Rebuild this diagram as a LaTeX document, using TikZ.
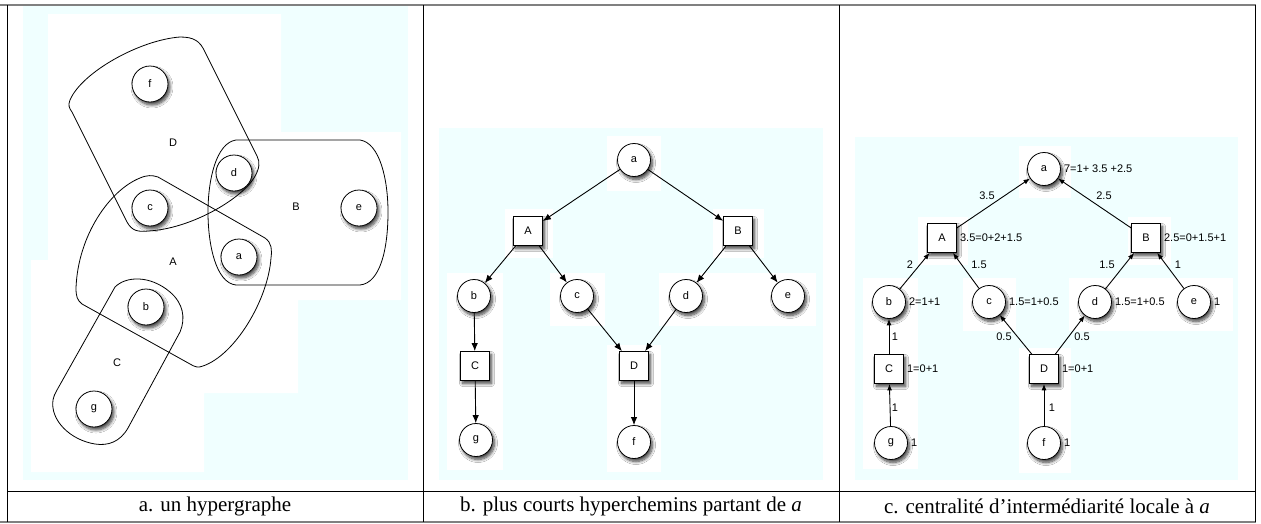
\documentclass[tikz,border=0pt]{standalone}
\usepackage{fontspec}
\setmainfont{Liberation Serif}
\newfontfamily\lsans{Liberation Sans}
\usetikzlibrary{arrows.meta,shadows.blur}
\definecolor{pale}{RGB}{240,255,255}
\definecolor{rulegrey}{RGB}{128,128,128}
\begin{document}
\begin{tikzpicture}[x=1pt,y=-1pt,
  shad/.style={blur shadow={shadow xshift=2pt,shadow yshift=-3pt,shadow blur radius=3pt,shadow blur steps=8,shadow opacity=75}},
  vtx/.style={circle,draw,fill=white,line width=0.8pt,minimum size=33pt,inner sep=0pt,font=\lsans\fontsize{11}{13}\selectfont,shad},
  bigvtx/.style={vtx,minimum size=36pt},
  hedge/.style={rectangle,draw,fill=white,line width=0.8pt,minimum size=29pt,inner sep=0pt,font=\lsans\fontsize{11}{13}\selectfont,shad},
  hlab/.style={font=\lsans\fontsize{11}{13}\selectfont,inner sep=0pt},
  outline/.style={draw,line width=0.8pt},
  num/.style={font=\lsans\fontsize{11}{13}\selectfont,inner sep=0pt},
  ann/.style={font=\lsans\fontsize{11}{13}\selectfont,anchor=west,inner sep=3pt},
  arrb/.style={line width=0.9pt,-{Latex[length=8pt,width=6.5pt]}},
  arrc/.style={line width=0.9pt,-{Latex[length=6.5pt,width=5pt]}},
  capt/.style={font=\fontsize{21}{25}\selectfont,inner sep=0pt},
  tabline/.style={line width=1pt,black},
  greyline/.style={line width=1.6pt,rulegrey}
]
\useasboundingbox (0,0) rectangle (1261,523);
% ---------- panel a background ----------
\fill[pale] (23,6) rectangle (408,480);
\fill[white] (48,14) -- (281,14) -- (281,132) -- (401,132) -- (401,300) -- (298,300) -- (298,393) -- (204,393) -- (204,472) -- (31,472) -- (31,260) -- (48,260) -- cycle;
% ---------- panel b background ----------
\fill[pale] (439,128) rectangle (823,480);
\fill[white] (607,136) rectangle (661,191);
\fill[white] (505,209) rectangle (553,258);
\fill[white] (713,209) rectangle (764,258);
\fill[white] (447,273) rectangle (503,470);
\fill[white] (550,273) rectangle (605,326);
\fill[white] (659,273) rectangle (816,326);
\fill[white] (607,345) rectangle (661,472);
% ---------- panel c background ----------
\fill[pale] (855,137) rectangle (1238,480);
\fill[white] (1019,146) rectangle (1071,198);
\fill[white] (918,217) rectangle (968,265);
\fill[white] (1128,217) rectangle (1171,265);
\fill[white] (863,278) rectangle (918,469);
\fill[white] (963,278) rectangle (1016,331);
\fill[white] (1069,278) rectangle (1233,331);
\fill[white] (1019,348) rectangle (1071,473);
% ---------- panel a hyperedges ----------
% D
\path[outline] (205,52) .. controls (200,41) and (194,37) .. (180,37)
  .. controls (140,40) and (82,72) .. (70,100)
  .. controls (68,105) and (69,108) .. (72,112) -- (127,222)
  .. controls (132,231) and (138,232) .. (148,231)
  .. controls (190,229) and (240,200) .. (254,178)
  .. controls (260,168) and (260,162) .. (257,156) -- cycle;
% A
\path[outline] (158,177) -- (265,238)
  .. controls (272,243) and (272,250) .. (271,258)
  .. controls (268,300) and (235,355) .. (203,366)
  .. controls (198,368) and (195,367) .. (190,364) -- (82,304)
  .. controls (77,300) and (76,296) .. (76,288)
  .. controls (78,235) and (110,190) .. (140,178)
  .. controls (147,175) and (152,175) .. (158,177) -- cycle;
% B
\path[outline] (236,140) -- (360,140)
  .. controls (380,143) and (388,180) .. (388,212)
  .. controls (388,250) and (380,283) .. (360,285) -- (236,285)
  .. controls (216,283) and (208,245) .. (208,212)
  .. controls (208,180) and (216,143) .. (236,140) -- cycle;
% C
\path[outline] (115,287) .. controls (126,276) and (150,275) .. (170,292)
  .. controls (183,303) and (186,318) .. (180,332) -- (128,428)
  .. controls (120,442) and (108,446) .. (95,444)
  .. controls (70,440) and (50,420) .. (53,400)
  .. controls (54,396) and (55,393) .. (57,390) -- cycle;
% labels of hyperedges
\node[hlab] (lD) at (173,143) {D};
\node[hlab] (lB) at (296,207) {B};
\node[hlab] (lA) at (173,262) {A};
\node[hlab] (lC) at (117,363) {C};
% vertices
\node[bigvtx] (hf) at (150,84) {f};
\node[bigvtx] (hd) at (234,173) {d};
\node[bigvtx] (hc) at (150,208) {c};
\node[bigvtx] (he) at (359,208) {e};
\node[bigvtx] (ha) at (239,257) {a};
\node[bigvtx] (hb) at (146,307) {b};
\node[bigvtx] (hg) at (94,409) {g};
% ---------- panel b ----------
\node[vtx] (ba) at (634,160) {a};
\node[hedge] (bA) at (528,231) {A};
\node[hedge] (bB) at (738,231) {B};
\node[vtx] (bb) at (474,296) {b};
\node[vtx] (bc) at (577,296) {c};
\node[vtx] (bd) at (686,296) {d};
\node[vtx] (be) at (788,296) {e};
\node[hedge] (bC) at (475,366) {C};
\node[hedge] (bD) at (634,366) {D};
\node[vtx] (bg) at (476,440) {g};
\node[vtx] (bf) at (634,442) {f};
\draw[arrb] (ba) -- (bA);
\draw[arrb] (ba) -- (bB);
\draw[arrb] (bA) -- (bb);
\draw[arrb] (bA) -- (bc);
\draw[arrb] (bB) -- (bd);
\draw[arrb] (bB) -- (be);
\draw[arrb] (bb) -- (bC);
\draw[arrb] (bc) -- (bD);
\draw[arrb] (bd) -- (bD);
\draw[arrb] (bC) -- (bg);
\draw[arrb] (bD) -- (bf);
% ---------- panel c ----------
\node[vtx] (ca) at (1044,169) {a};
\node[hedge] (cA) at (942,238) {A};
\node[hedge] (cB) at (1146,238) {B};
\node[vtx] (cb) at (889,302) {b};
\node[vtx] (cc) at (989,302) {c};
\node[vtx] (cd) at (1095,302) {d};
\node[vtx] (ce) at (1194,302) {e};
\node[hedge] (cC) at (889,369) {C};
\node[hedge] (cD) at (1044,369) {D};
\node[vtx] (cg) at (891,443) {g};
\node[vtx] (cf) at (1044,443) {f};
\draw[arrc] (cA) -- (ca);
\draw[arrc] (cB) -- (ca);
\draw[arrc] (cb) -- (cA);
\draw[arrc] (cc) -- (cA);
\draw[arrc] (cd) -- (cB);
\draw[arrc] (ce) -- (cB);
\draw[arrc] (cC) -- (cb);
\draw[arrc] (cD) -- (cc);
\draw[arrc] (cD) -- (cd);
\draw[arrc] (cg) -- (cC);
\draw[arrc] (cf) -- (cD);
% edge values
\node[num] (n1) at (987,196) {3.5};
\node[num] (n2) at (1104,196) {2.5};
\node[num] (n3) at (910,265) {2};
\node[num] (n4) at (979,265) {1.5};
\node[num] (n5) at (1107,265) {1.5};
\node[num] (n6) at (1178,265) {1};
\node[num] (n7) at (895,337) {1};
\node[num] (n8) at (1004,337) {0.5};
\node[num] (n9) at (1082,337) {0.5};
\node[num] (n10) at (895,408) {1};
\node[num] (n11) at (1052,408) {1};
% vertex annotations
\node[ann] (va) at (ca.east) {7=1+ 3.5 +2.5};
\node[ann] (vA) at (cA.east) {3.5=0+2+1.5};
\node[ann] (vB) at (cB.east) {2.5=0+1.5+1};
\node[ann] (vb) at (cb.east) {2=1+1};
\node[ann] (vc) at (cc.east) {1.5=1+0.5};
\node[ann] (vd) at (cd.east) {1.5=1+0.5};
\node[ann] (ve) at (ce.east) {1};
\node[ann] (vC) at (cC.east) {1=0+1};
\node[ann] (vD) at (cD.east) {1=0+1};
\node[ann] (vg) at (cg.east) {1};
\node[ann] (vf) at (cf.east) {1};
% ---------- table ----------
\draw[greyline] (0,5) -- (1256,5);
\draw[greyline] (0,522) -- (1256,522);
\draw[tabline] (7,5) -- (7,522);
\draw[tabline] (423,5) -- (423,522);
\draw[tabline] (839,5) -- (839,522);
\draw[tabline] (1255,5) -- (1255,522);
\draw[tabline] (7,491) -- (1255,491);
\node[capt] (capa) at (215,506) {a. un hypergraphe};
\node[capt] (capb) at (631,506) {b. plus courts hyperchemins partant de \textit{a}};
\node[capt] (capc) at (1047,506) {c. centralité d’intermédiarité locale à \textit{a}};
\end{tikzpicture}
\end{document}
